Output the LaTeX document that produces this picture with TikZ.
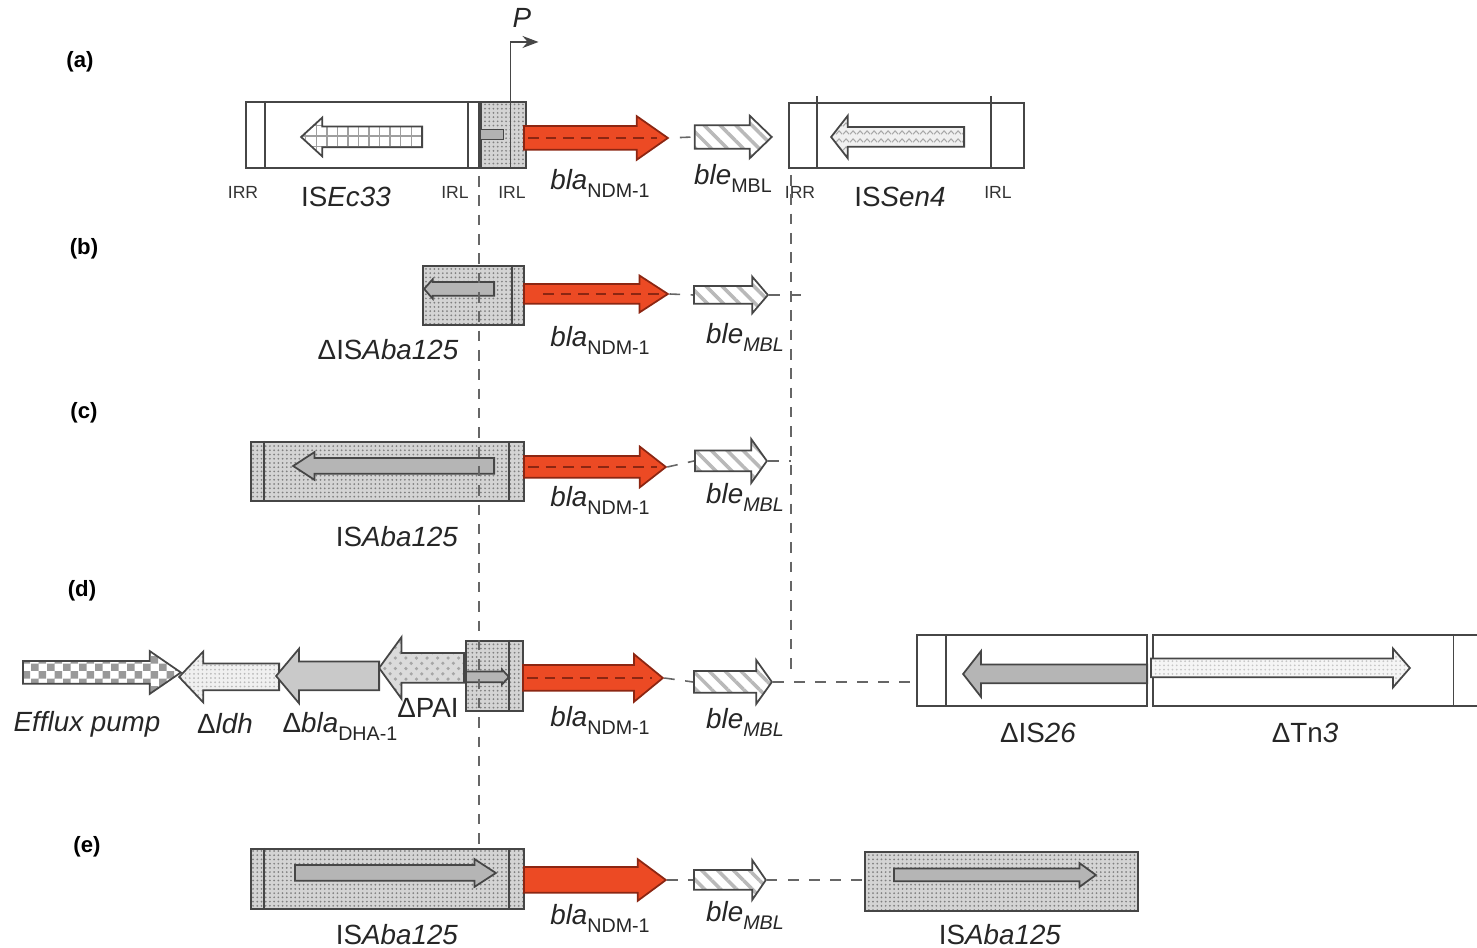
\documentclass[tikz,border=0pt]{standalone}
\usepackage{fontspec}
\setmainfont{Liberation Sans}
\usetikzlibrary{positioning,arrows.meta,shapes.arrows,patterns,patterns.meta}
\definecolor{NdmRed}{RGB}{236,74,36}
\definecolor{NdmDark}{RGB}{140,38,18}
\definecolor{EdgeGray}{RGB}{70,70,70}
\pgfdeclarepatternformonly{finedots}{\pgfqpoint{-0.3pt}{-0.3pt}}{\pgfqpoint{0.3pt}{0.3pt}}{\pgfqpoint{1.2pt}{1.2pt}}{\pgfpathcircle{\pgfpointorigin}{0.28pt}\pgfusepath{fill}}
\pgfdeclarepatternformonly{zigzag}{\pgfqpoint{0pt}{0pt}}{\pgfqpoint{2pt}{2.2pt}}{\pgfqpoint{2pt}{2.2pt}}{\pgfsetlinewidth{0.3pt}\pgfpathmoveto{\pgfqpoint{0pt}{0.5pt}}\pgfpathlineto{\pgfqpoint{1pt}{1.5pt}}\pgfpathlineto{\pgfqpoint{2pt}{0.5pt}}\pgfusepath{stroke}}
\pgfdeclarepatternformonly{smallcheck}{\pgfqpoint{0pt}{0pt}}{\pgfqpoint{4.4pt}{4.4pt}}{\pgfqpoint{4.4pt}{4.4pt}}{\pgfpathrectangle{\pgfqpoint{0pt}{0pt}}{\pgfqpoint{2.2pt}{2.2pt}}\pgfpathrectangle{\pgfqpoint{2.2pt}{2.2pt}}{\pgfqpoint{2.2pt}{2.2pt}}\pgfusepath{fill}}
\newcommand\gsub[1]{\raisebox{-0.55ex}{\fontsize{5.6}{6}\selectfont #1}}
\tikzset{
  isbox/.style={draw=EdgeGray,line width=0.5pt,fill=white,inner sep=0pt,anchor=north west},
  stipbox/.style={draw=EdgeGray,line width=0.5pt,preaction={fill=gray!34},pattern=finedots,pattern color=black!50,inner sep=0pt,anchor=north west},
  gene/.style n args={4}{single arrow,draw=EdgeGray,line width=0.5pt,inner xsep=0pt,inner ysep=#2,anchor=tail,minimum height=#1,single arrow head extend=#3,single arrow tip angle=#4},
  leftward/.style={shape border rotate=180},
  gridfill/.style={preaction={fill=white},pattern=grid,pattern color=gray!75},
  zigfill/.style={preaction={fill=gray!12},pattern=zigzag,pattern color=gray!70},
  ndm/.style={fill=NdmRed,draw=NdmDark},
  blefill/.style={preaction={fill=white},pattern={Lines[angle=-45,distance=3.2pt,line width=1pt]},pattern color=gray!55},
  checkfill/.style={preaction={fill=white},pattern=smallcheck,pattern color=gray!80},
  ldhfill/.style={preaction={fill=gray!12},pattern=finedots,pattern color=gray!55},
  dhafill/.style={fill=gray!42},
  paifill/.style={preaction={fill=gray!28},pattern=crosshatch dots,pattern color=gray!70},
  corefill/.style={fill=gray!58},
  tnfill/.style={preaction={fill=gray!8},pattern=finedots,pattern color=gray!45},
  ndmline/.style={draw=NdmDark,line width=0.6pt,dash pattern=on 3pt off 2pt},
  guide/.style={draw=black!60,line width=0.45pt,dash pattern=on 3pt off 2.5pt},
  link/.style={draw=black!60,line width=0.45pt,dash pattern=on 3pt off 3pt},
  lab/.style={font=\fontsize{7.9}{8}\selectfont,text=black!85,inner sep=0pt},
  irlab/.style={font=\fontsize{5}{6}\selectfont,text=black!80,inner sep=0pt},
  rowlab/.style={font=\bfseries\fontsize{6.3}{7}\selectfont,inner sep=0pt},
}

\begin{document}
\begin{tikzpicture}[y=-1cm]
  \useasboundingbox (0,0) rectangle (14.77,9.48);

  \node[rowlab] (ra) at (0.80,0.62) {(a)};
  \node[rowlab] (rb) at (0.84,2.49) {(b)};
  \node[rowlab] (rc) at (0.84,4.13) {(c)};
  \node[rowlab] (rd) at (0.82,5.91) {(d)};
  \node[rowlab] (re) at (0.87,8.47) {(e)};

  % (a)
  \node[isbox,minimum width=2.33cm,minimum height=0.66cm] (isec) at (2.45,1.01) {};
  \node[stipbox,minimum width=0.45cm,minimum height=0.66cm,right=0pt of isec] (irlA) {};
  \draw[EdgeGray,line width=0.5pt] ([xshift=2mm]isec.north west) -- ([xshift=2mm]isec.south west);
  \draw[EdgeGray,line width=0.5pt] ([xshift=-1.2mm]isec.north east) -- ([xshift=-1.2mm]isec.south east);
  \draw[EdgeGray,line width=0.5pt] ([xshift=-1.6mm]irlA.north east) -- ([xshift=-1.6mm]irlA.south east);
  \node[fill=gray!60,draw=EdgeGray,line width=0.3pt,inner sep=0pt,minimum width=0.23cm,minimum height=0.1cm,anchor=west] (tnpA) at (irlA.west) {};
  \draw[EdgeGray,line width=0.5pt,-{Stealth[length=1.6mm,width=1.2mm]}] ([xshift=-1.6mm]irlA.north east) -- ++(0,-0.59) -- ++(0.28,0);
  \node[lab] (prom) at (5.22,0.18) {\textit{P}};
  \node[gene={1.21cm}{0.095cm}{0.09cm}{85},leftward,gridfill] (isecArr) at (4.23,1.37) {};
  \node[gene={1.44cm}{0.11cm}{0.10cm}{70},ndm] (blaA) at (5.23,1.38) {};
  \draw[ndmline] ([xshift=0.5mm]blaA.tail) -- ([xshift=-1.2mm]blaA.tip);
  \node[gene={0.77cm}{0.10cm}{0.095cm}{88},blefill] (bleA) at (6.93,1.37) {};
  \draw[link,dash phase=3pt] (blaA.tip) -- (bleA.tail);
  \node[isbox,minimum width=2.35cm,minimum height=0.65cm] (issen) at (7.88,1.02) {};
  \draw[EdgeGray,line width=0.5pt] ([xshift=2.9mm,yshift=0.6mm]issen.north west) -- ([xshift=2.9mm]issen.south west);
  \draw[EdgeGray,line width=0.5pt] ([xshift=-3.4mm,yshift=0.6mm]issen.north east) -- ([xshift=-3.4mm]issen.south east);
  \node[gene={1.33cm}{0.09cm}{0.115cm}{104},leftward,zigfill] (issenArr) at (9.65,1.37) {};
  \node[irlab] (irrA1) at (2.43,1.92) {IRR};
  \node[lab] (lisec) at (3.46,1.97) {IS\textit{Ec33}};
  \node[irlab] (irlA1) at (4.55,1.92) {IRL};
  \node[irlab] (irlA2) at (5.12,1.92) {IRL};
  \node[lab] (lblaA) at (6.00,1.83) {\textit{bla}\gsub{NDM-1}};
  \node[lab] (lbleA) at (7.33,1.78) {\textit{ble}\gsub{MBL}};
  \node[irlab] (irrA2) at (8.00,1.92) {IRR};
  \node[lab] (lissen) at (9.00,1.97) {IS\textit{Sen4}};
  \node[irlab] (irlA3) at (9.98,1.92) {IRL};

  % (b)
  \node[stipbox,minimum width=1.01cm,minimum height=0.59cm] (isB) at (4.22,2.65) {};
  \draw[EdgeGray,line width=0.5pt] ([xshift=-1.3mm]isB.north east) -- ([xshift=-1.3mm]isB.south east);
  \node[gene={0.70cm}{0.06cm}{0.03cm}{97},leftward,corefill] (isBArr) at (4.95,2.89) {};
  \node[gene={1.44cm}{0.09cm}{0.085cm}{66},ndm] (blaB) at (5.23,2.94) {};
  \draw[ndmline] ([xshift=2mm]blaB.tail) -- ([xshift=-0.8mm]blaB.tip);
  \node[gene={0.74cm}{0.08cm}{0.095cm}{99},blefill] (bleB) at (6.93,2.95) {};
  \coordinate (endB) at (8.08,2.95);
  \draw[link] (blaB.tip) -- (bleB.tail); \draw[link] (bleB.tip) -- (endB);
  \node[lab] (lisB) at (3.88,3.50) {ΔIS\textit{Aba125}};
  \node[lab] (lblaB) at (6.00,3.40) {\textit{bla}\gsub{NDM-1}};
  \node[lab] (lbleB) at (7.45,3.37) {\textit{ble}\gsub{\textit{MBL}}};

  % (c)
  \node[stipbox,minimum width=2.73cm,minimum height=0.59cm] (isC) at (2.50,4.41) {};
  \draw[EdgeGray,line width=0.5pt] ([xshift=1.4mm]isC.north west) -- ([xshift=1.4mm]isC.south west);
  \draw[EdgeGray,line width=0.5pt] ([xshift=-1.6mm]isC.north east) -- ([xshift=-1.6mm]isC.south east);
  \node[gene={2.01cm}{0.07cm}{0.06cm}{66},leftward,corefill] (isCArr) at (4.95,4.66) {};
  \node[gene={1.42cm}{0.10cm}{0.095cm}{76},ndm] (blaC) at (5.23,4.67) {};
  \draw[ndmline] ([xshift=0.5mm]blaC.tail) -- ([xshift=-1mm]blaC.tip);
  \node[gene={0.72cm}{0.095cm}{0.115cm}{109},blefill] (bleC) at (6.94,4.61) {};
  \coordinate (g2top) at (7.91,1.75);
  \coordinate (g2bot) at (7.91,6.70);
  \draw[link] (blaC.tip) -- (bleC.tail); \draw[link] (bleC.tip) -- (bleC.tip -| g2top);
  \node[lab] (lisC) at (3.97,5.37) {IS\textit{Aba125}};
  \node[lab] (lblaC) at (6.00,5.00) {\textit{bla}\gsub{NDM-1}};
  \node[lab] (lbleC) at (7.45,4.97) {\textit{ble}\gsub{\textit{MBL}}};

  % (d)
  \node[gene={1.58cm}{0.105cm}{0.10cm}{69},checkfill] (efflux) at (0.22,6.725) {};
  \node[gene={1.00cm}{0.125cm}{0.12cm}{93},leftward,ldhfill] (ldh) at (2.80,6.77) {};
  \node[gene={1.03cm}{0.135cm}{0.13cm}{100},leftward,dhafill] (dha) at (3.80,6.76) {};
  \node[gene={0.85cm}{0.14cm}{0.16cm}{108},leftward,paifill] (pai) at (4.65,6.68) {};
  \node[stipbox,minimum width=0.57cm,minimum height=0.70cm] (isD) at (4.65,6.40) {};
  \draw[EdgeGray,line width=0.5pt] ([xshift=-1.5mm]isD.north east) -- ([xshift=-1.5mm]isD.south east);
  \node[gene={0.43cm}{0.045cm}{0.02cm}{95},corefill] (isDArr) at (4.65,6.77) {};
  \node[gene={1.40cm}{0.12cm}{0.11cm}{79},ndm] (blaD) at (5.22,6.78) {};
  \draw[ndmline] ([xshift=0.5mm]blaD.tail) -- ([xshift=-1.2mm]blaD.tip);
  \node[gene={0.78cm}{0.10cm}{0.11cm}{109},blefill] (bleD) at (6.93,6.82) {};
  \node[isbox,minimum width=2.30cm,minimum height=0.71cm] (is26) at (9.16,6.34) {};
  \node[isbox,minimum width=3.26cm,minimum height=0.71cm,right=0.04cm of is26] (tn3) {};
  \draw[EdgeGray,line width=0.5pt] ([xshift=3mm]is26.north west) -- ([xshift=3mm]is26.south west);
  \draw[EdgeGray,line width=0.5pt] ([xshift=-2.6mm]tn3.north east) -- ([xshift=-2.6mm]tn3.south east);
  \node[gene={1.84cm}{0.085cm}{0.135cm}{104},leftward,corefill] (is26Arr) at (11.48,6.74) {};
  \node[gene={2.59cm}{0.085cm}{0.10cm}{98},tnfill] (tn3Arr) at (11.50,6.68) {};
  \draw[link] (blaD.tip) -- (bleD.tail); \draw[link] (bleD.tip) -- (bleD.tip -| is26.west);
  \node[lab] (leff) at (0.87,7.24) {\textit{Efflux pump}};
  \node[lab] (lldh) at (2.25,7.24) {Δ\textit{ldh}};
  \node[lab] (ldha) at (3.40,7.26) {Δ\textit{bla}\gsub{DHA-1}};
  \node[lab] (lpai) at (4.28,7.08) {ΔPAI};
  \node[lab] (lblaD) at (6.00,7.20) {\textit{bla}\gsub{NDM-1}};
  \node[lab] (lbleD) at (7.45,7.22) {\textit{ble}\gsub{\textit{MBL}}};
  \node[lab] (lis26) at (10.38,7.33) {ΔIS\textit{26}};
  \node[lab] (ltn3) at (13.05,7.33) {ΔTn\textit{3}};

  % (e)
  \node[stipbox,minimum width=2.73cm,minimum height=0.60cm] (isLe) at (2.50,8.48) {};
  \draw[EdgeGray,line width=0.5pt] ([xshift=1.4mm]isLe.north west) -- ([xshift=1.4mm]isLe.south west);
  \draw[EdgeGray,line width=0.5pt] ([xshift=-1.6mm]isLe.north east) -- ([xshift=-1.6mm]isLe.south east);
  \node[gene={2.01cm}{0.07cm}{0.06cm}{66},corefill] (isLeArr) at (2.94,8.73) {};
  \node[gene={1.42cm}{0.12cm}{0.08cm}{73},ndm] (blaE) at (5.23,8.80) {};
  \node[gene={0.72cm}{0.09cm}{0.10cm}{111},blefill] (bleE) at (6.93,8.80) {};
  \node[stipbox,minimum width=2.73cm,minimum height=0.59cm] (isRe) at (8.64,8.51) {};
  \node[gene={2.02cm}{0.055cm}{0.055cm}{72},corefill] (isReArr) at (8.93,8.75) {};
  \draw[link] (blaE.tip) -- (bleE.tail); \draw[link] (bleE.tip) -- (bleE.tip -| isRe.west);
  \node[lab] (lisLe) at (3.97,9.35) {IS\textit{Aba125}};
  \node[lab] (lblaE) at (6.00,9.18) {\textit{bla}\gsub{NDM-1}};
  \node[lab] (lbleE) at (7.45,9.15) {\textit{ble}\gsub{\textit{MBL}}};
  \node[lab] (lisRe) at (10.00,9.35) {IS\textit{Aba125}};

  \coordinate (g1top) at (4.79,1.76);
  \draw[guide] (g1top) -- (g1top |- isLe.north);
  \draw[guide] (g2top) -- (g2bot);
\end{tikzpicture}
\end{document}
